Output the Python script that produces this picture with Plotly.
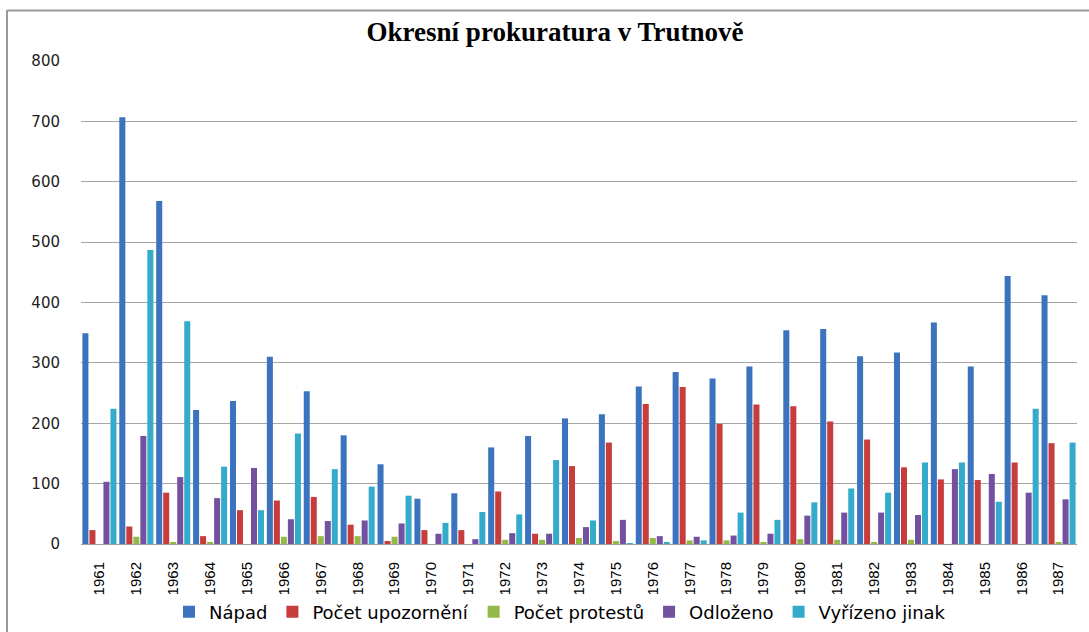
import plotly.graph_objects as go

years = [str(y) for y in range(1961, 1988)]

napad = [349, 707, 568, 222, 237, 310, 253, 180, 132, 75, 84, 160, 179, 208, 215,
         261, 285, 274, 294, 354, 356, 311, 317, 367, 294, 444, 412]
upozorneni = [23, 29, 85, 13, 56, 72, 78, 32, 5, 23, 23, 87, 17, 129, 168,
              232, 260, 199, 231, 228, 203, 173, 127, 107, 106, 135, 167]
protesty = [0, 12, 2, 3, 0, 12, 13, 13, 12, 0, 0, 7, 7, 10, 5,
            10, 6, 6, 3, 8, 7, 2, 7, 0, 0, 0, 2]
odlozeno = [103, 179, 111, 76, 126, 41, 38, 39, 34, 17, 8, 18, 17, 28, 40,
            13, 12, 14, 17, 47, 52, 52, 48, 124, 116, 85, 74]
jinak = [224, 487, 369, 128, 56, 183, 124, 95, 80, 35, 53, 49, 139, 39, 1,
         2, 6, 52, 40, 69, 92, 85, 135, 135, 70, 224, 168]

series = [
    ("Nápad", napad, "#3B73BE"),
    ("Počet upozornění", upozorneni, "#C63D3B"),
    ("Počet protestů", protesty, "#93B948"),
    ("Odloženo", odlozeno, "#7251A1"),
    ("Vyřízeno jinak", jinak, "#35ABCB"),
]

fig = go.Figure()
for name, vals, col in series:
    fig.add_trace(go.Bar(x=years, y=vals, name=name,
                         marker=dict(color=col, line=dict(width=0))))

W, H = 1089, 632
L, R, T, B = 81, 12, 61, 88
pw, ph = W - L - R, H - T - B

def px2paper_x(px):
    return (px - L) / pw

def px2paper_y(py):
    return (H - B - py) / ph

border = dict(color="#9A9A9A", width=2)

fig.update_layout(
    width=W, height=H,
    margin=dict(l=L, r=R, t=T, b=B, autoexpand=False),
    paper_bgcolor="white", plot_bgcolor="white",
    barmode="group", bargap=0.05, bargroupgap=0.14,
    title=dict(text="<b>Okresní prokuratura v Trutnově</b>",
               font=dict(family="Liberation Serif", size=27, color="black"),
               x=555 / W, xanchor="center", xref="container",
               y=1 - 32 / H, yanchor="middle", yref="container"),
    font=dict(family="DejaVu Sans", color="black"),
    xaxis=dict(type="category", tickangle=-90, showgrid=False,
               showline=True, linecolor="#A0A0A0", linewidth=1,
               ticks="", ticklabelstandoff=11, automargin=False,
               tickfont=dict(family="Liberation Sans", size=15, color="black")),
    yaxis=dict(range=[0, 800], dtick=100, showgrid=True, gridcolor="#A6A6A6",
               gridwidth=1, zeroline=False, showline=False, ticks="",
               ticklabelstandoff=20, automargin=False,
               tickfont=dict(family="DejaVu Sans", size=15, color="#222222")),
    legend=dict(orientation="h", x=px2paper_x(560), xanchor="center",
                y=px2paper_y(612), yanchor="middle",
                font=dict(family="DejaVu Sans", size=18, color="black"),
                itemwidth=30, traceorder="normal"),
    shapes=[
        dict(type="line", xref="paper", yref="paper",
             x0=px2paper_x(7), x1=px2paper_x(W + 2),
             y0=px2paper_y(10.5), y1=px2paper_y(10.5), line=border, layer="below"),
        dict(type="line", xref="paper", yref="paper",
             x0=px2paper_x(7), x1=px2paper_x(7),
             y0=px2paper_y(10), y1=px2paper_y(H + 2), line=border, layer="below"),
    ],
)

fig.write_html("out.html",
               config={"displayModeBar": False},
               post_script="document.body.style.margin='0';document.body.style.padding='0';")
